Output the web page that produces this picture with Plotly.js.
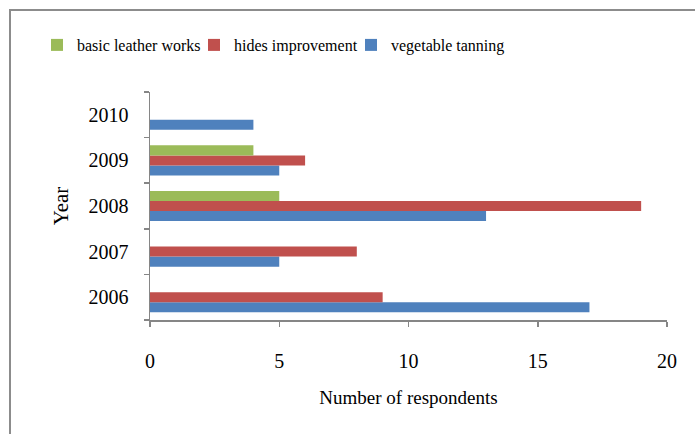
<!DOCTYPE html>
<html><head><meta charset="utf-8">
<script src="https://cdn.plot.ly/plotly-3.0.1.min.js"></script>
<style>
html,body{margin:0;padding:0;background:#fff;overflow:hidden}
#frame{position:absolute;left:9px;top:9px;width:720px;height:460px;border:2px solid #8c8c8c;box-sizing:border-box}
#chart{position:absolute;left:0;top:0;width:695px;height:434px}
</style></head>
<body>
<div id="frame"></div>
<div id="chart"></div>
<script>
const years = ["2006","2007","2008","2009","2010"];
const vegetableTanning = [17, 5, 13, 5, 4];
const hidesImprovement = [9, 8, 19, 6, null];
const basicLeatherWorks = [null, null, 5, 4, null];
const seriesNames = ["vegetable tanning", "hides improvement", "basic leather works"];
const xTicks = [0, 5, 10, 15, 20];

const font = "'Liberation Serif', 'Times New Roman', serif";
const traces = [
  {type:"bar", orientation:"h", name:seriesNames[0], y:years, x:vegetableTanning, marker:{color:"#4F81BD"}},
  {type:"bar", orientation:"h", name:seriesNames[1], y:years, x:hidesImprovement, marker:{color:"#C0504D"}},
  {type:"bar", orientation:"h", name:seriesNames[2], y:years, x:basicLeatherWorks, marker:{color:"#9BBB59"}}
];
const layout = {
  width:695, height:434,
  margin:{l:150, r:28, t:92, b:114},
  paper_bgcolor:"rgba(0,0,0,0)", plot_bgcolor:"rgba(0,0,0,0)",
  font:{family:font, size:20, color:"#000"},
  barmode:"group", bargap:0.34, bargroupgap:0,
  showlegend:true,
  legend:{orientation:"h", traceorder:"reversed", xref:"container", yref:"container",
          x:37/695, xanchor:"left", y:1-45/434, yanchor:"middle",
          entrywidth:112, entrywidthmode:"pixels",
          font:{family:font, size:16, color:"#000"}, itemclick:false},
  xaxis:{range:[0,20], tickvals:xTicks, ticktext:xTicks.map(String),
         showgrid:false, zeroline:false, showline:true, linecolor:"#868686", linewidth:1.5,
         ticks:"outside", ticklen:5, tickcolor:"#868686", tickwidth:1.5, ticklabelstandoff:17,
         tickfont:{family:font, size:20},
         title:{text:"Number of respondents", font:{family:font, size:19}, standoff:20},
         fixedrange:true},
  yaxis:{type:"category", categoryorder:"array", categoryarray:years,
         showgrid:false, zeroline:false, showline:true, linecolor:"#868686", linewidth:1.5,
         ticks:"outside", tickson:"boundaries", ticklen:5, tickcolor:"#868686", tickwidth:1.5,
         ticklabelstandoff:16, tickfont:{family:font, size:20},
         title:{text:"Year", font:{family:font, size:21}, standoff:14},
         fixedrange:true}
};
Plotly.newPlot("chart", traces, layout, {displayModeBar:false, staticPlot:true});
</script>
</body></html>
